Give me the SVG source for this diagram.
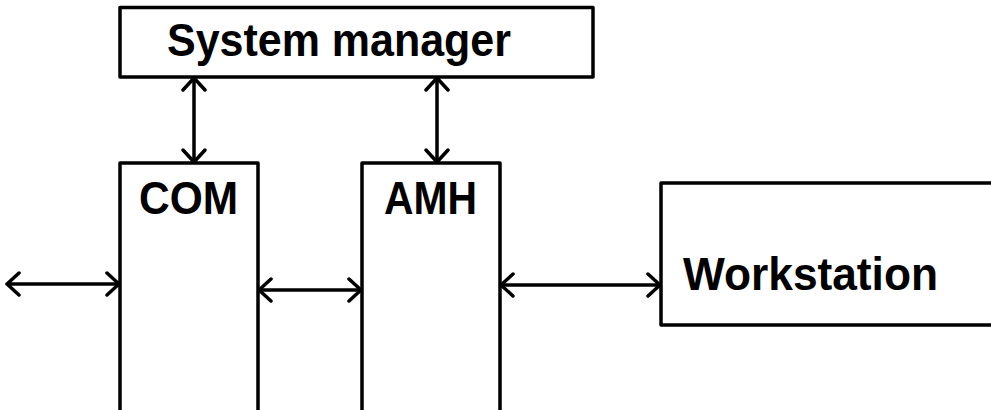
<svg xmlns="http://www.w3.org/2000/svg" width="991" height="410" viewBox="0 0 991 410">
<style>
.box{fill:#fff;stroke:#000;stroke-width:3.5;stroke-linejoin:round}
.lbl{font-family:"Liberation Sans",Arial,sans-serif;font-weight:bold;font-size:46px;fill:#000}
.con{stroke:#000;stroke-width:3.5;fill:none}
</style>
<defs>
<marker id="ah" markerUnits="userSpaceOnUse" viewBox="-16 -14 18 28" refX="0" refY="0" markerWidth="18" markerHeight="28" orient="auto-start-reverse">
<path d="M-12,-11 L0,0 L-12,11" fill="none" stroke="#000" stroke-width="3.5" stroke-linecap="round" stroke-linejoin="round"/>
</marker>
</defs>
<rect width="991" height="410" fill="#fff"/>
<g id="system-manager">
<rect class="box" x="120" y="7.5" width="473" height="69.5"/>
<text class="lbl" x="167" y="56" textLength="344" lengthAdjust="spacingAndGlyphs">System manager</text>
</g>
<g id="com">
<rect class="box" x="120" y="163" width="138" height="260"/>
<text class="lbl" x="139" y="214" textLength="99" lengthAdjust="spacingAndGlyphs">COM</text>
</g>
<g id="amh">
<rect class="box" x="362" y="163" width="138" height="260"/>
<text class="lbl" x="384" y="214" textLength="93" lengthAdjust="spacingAndGlyphs">AMH</text>
</g>
<g id="workstation">
<rect class="box" x="661" y="183" width="340" height="142"/>
<text class="lbl" x="683" y="290" textLength="255" lengthAdjust="spacingAndGlyphs">Workstation</text>
</g>
<g id="connectors">
<line class="con" x1="194" y1="78" x2="194" y2="162" marker-start="url(#ah)" marker-end="url(#ah)"/>
<line class="con" x1="437" y1="78" x2="437" y2="162" marker-start="url(#ah)" marker-end="url(#ah)"/>
<line class="con" x1="7" y1="284" x2="119" y2="284" marker-start="url(#ah)" marker-end="url(#ah)"/>
<line class="con" x1="259" y1="290" x2="361" y2="290" marker-start="url(#ah)" marker-end="url(#ah)"/>
<line class="con" x1="501" y1="285" x2="660" y2="285" marker-start="url(#ah)" marker-end="url(#ah)"/>
</g>
</svg>
